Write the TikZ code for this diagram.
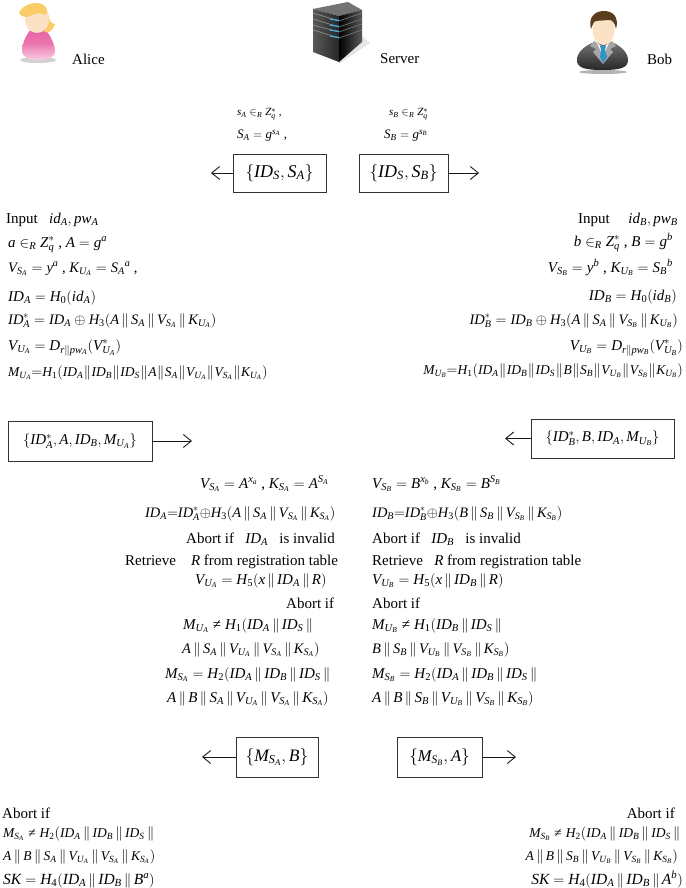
\documentclass[tikz,border=0pt]{standalone}
\usepackage{mathspec}
\setmainfont{Liberation Serif}
\setmathfont(Digits,Latin)[Scale=MatchLowercase]{Liberation Serif}
\setmathrm{Liberation Serif}
\usetikzlibrary{arrows.meta}
\newcommand{\cc}{\,\|\,}
\newcommand{\tc}{\mkern.7mu\|\mkern.7mu}
\newcommand{\nequal}{\mathrel{\hbox{≠}}}
\definecolor{alicepink}{RGB}{232,92,160}
\definecolor{alicehair}{RGB}{250,205,105}
\definecolor{skin}{RGB}{252,226,196}
\definecolor{tieblue}{RGB}{45,150,200}
\definecolor{ledblue}{RGB}{70,170,225}
\tikzset{
  lline/.style={anchor=base west,inner sep=0pt},
  rline/.style={anchor=base east,inner sep=0pt},
  msgbox/.style={draw=black!80,line width=.8pt,inner sep=0pt},
  flow/.style={-{Straight Barb[length=8pt,width=13pt]},line width=.9pt,black!90}
}

\begin{document}
\begin{tikzpicture}
  [x=1pt,y=-1pt,every node/.style={font=\fontsize{15}{18}\selectfont}]
  \useasboundingbox (0,0) rectangle (685,888);

  % Alice
  \fill[black!18] (38,60) ellipse (18 and 3);
  \shade[top color=alicepink,bottom color=alicepink!30,middle color=alicepink!85]
    (38,26) .. controls (47,26) and (55,44) .. (55,51)
    .. controls (55,58) and (46,60) .. (38,60)
    .. controls (30,60) and (22,58) .. (22,50)
    .. controls (22,43) and (29,26) .. (38,26);
  \fill[alicehair] (46,8) .. controls (50,18) and (49,24) .. (55,24)
    .. controls (53,30) and (49,34) .. (44,32) .. controls (48,24) and (46,16) .. (42,10) -- cycle;
  \fill[skin] (37,20) ellipse (12 and 13);
  \fill[alicehair] (19,13) .. controls (22,5) and (34,1) .. (42,4)
    .. controls (49,8) and (48,14) .. (44,15)
    .. controls (38,10) and (28,18) .. (25,17) .. controls (22,17) and (20,15) .. (19,13);

  % Server
  \fill[black!10] (340,63) -- (370,43) -- (362,36) -- (335,60) -- cycle;
  \fill[black!55] (313,9) -- (348,2) -- (362,10) -- (339,16) -- cycle;
  \shade[left color=black!65,right color=black!85]
    (313,9) -- (339,16) -- (339,62) -- (313,52) -- cycle;
  \shade[left color=black,right color=black!65]
    (339,16) -- (362,10) -- (362,42) -- (339,62) -- cycle;
  \foreach \ya/\yb in {16/21, 22/27, 28/32, 33/38}{
    \draw[black!45,line width=.7pt] (313,\ya-3) -- (339,\yb);
    \draw[black!55,line width=.7pt] (339,\yb) -- (362,\yb-8);
    \draw[ledblue,line width=1.3pt] (330,\yb-2) -- (339,\yb-.5);
  }

  % Bob
  \fill[black!30] (603,72) ellipse (24 and 2);
  \shade[top color=black!55,bottom color=black!85]
    (592,43) .. controls (585,46) and (577,52) .. (577,60)
    .. controls (577,68) and (585,70) .. (603,70)
    .. controls (620,70) and (628,68) .. (628,60)
    .. controls (628,52) and (620,46) .. (614,43) -- cycle;
  \fill[black!35] (594,41) -- (603,47) -- (603,64) -- (593,52) -- (596,49) -- (590,46) -- cycle;
  \fill[black!35] (612,41) -- (603,47) -- (603,64) -- (613,52) -- (610,49) -- (616,46) -- cycle;
  \fill[white] (597,43) -- (603,48) -- (609,43) -- (603,56) -- cycle;
  \fill[tieblue] (600,46) -- (606,46) -- (605,50) -- (607,57) -- (603,63) -- (600,57) -- (601,50) -- cycle;
  \fill[skin] (603.5,30) ellipse (11 and 15);
  \fill[black!40!brown!80!black] (591,29) .. controls (588,18) and (594,11) .. (604,11)
    .. controls (614,11) and (619,18) .. (616,29)
    .. controls (615,23) and (612,19) .. (608,20)
    .. controls (602,21) and (596,20) .. (594,22)
    .. controls (593,24) and (592,26) .. (591,29);

  \node[lline] (alice) at (72,65) {Alice};
  \node[lline] (server) at (380,64) {Server};
  \node[lline] (bob) at (647,65) {Bob};

  \node[lline,font=\fontsize{11}{13}\selectfont] (sa) at (237,116) {$s_A\in_R Z_q^*$ ,};
  \node[lline,font=\fontsize{13}{15}\selectfont] (bigsa) at (237,139) {$S_A=g^{s_A}$ ,};
  \node[lline,font=\fontsize{11}{13}\selectfont] (sb) at (389,116) {$s_B\in_R Z_q^*$};
  \node[lline,font=\fontsize{13}{15}\selectfont] (bigsb) at (384,139) {$S_B=g^{s_B}$};

  \node[msgbox,minimum width=93pt,minimum height=38pt,font=\fontsize{18}{20}\selectfont] (m1a) at (279.5,173) {$\{ID_S,S_A\}$};
  \node[msgbox,minimum width=89pt,minimum height=38pt,font=\fontsize{18}{20}\selectfont] (m1b) at (403.5,173) {$\{ID_S,S_B\}$};
  \coordinate (e1a) at (211,173);
  \coordinate (e1b) at (479,173);

  \node[lline] (la1) at (6,223) {Input\ \ \ $id_A,pw_A$};
  \node[lline] (la2) at (8,247) {$a\in_R Z_q^*$ , $A=g^a$};
  \node[lline,font=\fontsize{14.5}{17}\selectfont] (la3) at (8,272) {$V_{S_A}=y^a$ , $K_{U_A}=S_A{}^a$ ,};
  \node[lline] (la4) at (8,301) {$ID_A=H_0(id_A)$};
  \node[lline,font=\fontsize{14.5}{17}\selectfont] (la5) at (8,324) {$ID_A^*=ID_A\oplus H_3(A\cc S_A\cc V_{S_A}\cc K_{U_A})$};
  \node[lline] (la6) at (8,350) {$V_{U_A}=D_{r\|pw_A}(V_{U_A}^*)$};
  \node[lline,font=\fontsize{13.5}{16}\selectfont] (la7) at (8,376) {$M_{U_A}{=}H_1(ID_A\tc ID_B\tc ID_S\tc A\tc S_A\tc V_{U_A}\tc V_{S_A}\tc K_{U_A})$};

  \node[rline] (lb1) at (678,223) {Input\ \ \ \ \ $id_B,pw_B$};
  \node[rline] (lb2) at (673,246) {$b\in_R Z_q^*$ , $B=g^b$};
  \node[rline] (lb3) at (673,272) {$V_{S_B}=y^b$ , $K_{U_B}=S_B{}^b$};
  \node[rline] (lb4) at (677,300) {$ID_B=H_0(id_B)$};
  \node[rline,font=\fontsize{14.5}{17}\selectfont] (lb5) at (678,324) {$ID_B^*=ID_B\oplus H_3(A\cc S_A\cc V_{S_B}\cc K_{U_B})$};
  \node[rline] (lb6) at (683,350) {$V_{U_B}=D_{r\|pw_B}(V_{U_B}^*)$};
  \node[rline,font=\fontsize{13.5}{16}\selectfont] (lb7) at (683,374) {$M_{U_B}{=}H_1(ID_A\tc ID_B\tc ID_S\tc B\tc S_B\tc V_{U_B}\tc V_{S_B}\tc K_{U_B})$};

  \node[msgbox,minimum width=144pt,minimum height=40pt] (m2a) at (80,441) {$\{ID_A^*,A,ID_B,M_{U_A}\}$};
  \node[msgbox,minimum width=143pt,minimum height=39pt] (m2b) at (602.5,438.5) {$\{ID_B^*,B,ID_A,M_{U_B}\}$};
  \coordinate (e2a) at (192,441);
  \coordinate (e2b) at (505,438.5);

  \node[lline] (ca1) at (200,488) {$V_{S_A}=A^{x_a}$ , $K_{S_A}=A^{S_A}$};
  \node[lline,font=\fontsize{14.4}{17}\selectfont] (ca2) at (145,517) {$ID_A{=}ID_A^*{\oplus}H_3(A\cc S_A\cc V_{S_A}\cc K_{S_A})$};
  \node[lline] (ca3) at (186,543) {Abort if\ \ \ $ID_A$\ \ \ is invalid};
  \node[lline] (ca4) at (125,565) {Retrieve\ \ \ \ $R$ from registration table};
  \node[lline] (ca5) at (195,584) {$V_{U_A}=H_5(x\cc ID_A\cc R)$};
  \node[lline] (ca6) at (286,608) {Abort if};
  \node[lline] (ca7) at (183,629) {$M_{U_A}\nequal H_1(ID_A\cc ID_S\cc$};
  \node[lline,font=\fontsize{14.5}{17}\selectfont] (ca8) at (182,653) {$A\cc S_A\cc V_{U_A}\cc V_{S_A}\cc K_{S_A})$};
  \node[lline] (ca9) at (165,678) {$M_{S_A}=H_2(ID_A\cc ID_B\cc ID_S\cc$};
  \node[lline] (ca10) at (167,702) {$A\cc B\cc S_A\cc V_{U_A}\cc V_{S_A}\cc K_{S_A})$};

  \node[lline] (cb1) at (372,488) {$V_{S_B}=B^{x_b}$ , $K_{S_B}=B^{S_B}$};
  \node[lline,font=\fontsize{14.4}{17}\selectfont] (cb2) at (372,517) {$ID_B{=}ID_B^*{\oplus}H_3(B\cc S_B\cc V_{S_B}\cc K_{S_B})$};
  \node[lline] (cb3) at (372,543) {Abort if\ \ \ $ID_B$\ \ \ is invalid};
  \node[lline] (cb4) at (372,565) {Retrieve\ \ \ $R$ from registration table};
  \node[lline] (cb5) at (372,584) {$V_{U_B}=H_5(x\cc ID_B\cc R)$};
  \node[lline] (cb6) at (372,608) {Abort if};
  \node[lline] (cb7) at (372,629) {$M_{U_B}\nequal H_1(ID_B\cc ID_S\cc$};
  \node[lline,font=\fontsize{14.5}{17}\selectfont] (cb8) at (372,653) {$B\cc S_B\cc V_{U_B}\cc V_{S_B}\cc K_{S_B})$};
  \node[lline] (cb9) at (372,678) {$M_{S_B}=H_2(ID_A\cc ID_B\cc ID_S\cc$};
  \node[lline] (cb10) at (372,702) {$A\cc B\cc S_B\cc V_{U_B}\cc V_{S_B}\cc K_{S_B})$};

  \node[msgbox,minimum width=82pt,minimum height=40pt,font=\fontsize{17.5}{20}\selectfont] (m3a) at (277,757) {$\{M_{S_A},B\}$};
  \node[msgbox,minimum width=85pt,minimum height=40pt,font=\fontsize{16.5}{20}\selectfont] (m3b) at (439.5,757) {$\{M_{S_B},A\}$};
  \coordinate (e3a) at (202,757);
  \coordinate (e3b) at (516,757);

  \node[lline] (ea1) at (2,818) {Abort if};
  \node[lline,font=\fontsize{13.5}{16}\selectfont] (ea2) at (3,837) {$M_{S_A}\nequal H_2(ID_A\cc ID_B\cc ID_S\cc$};
  \node[lline,font=\fontsize{13.5}{16}\selectfont] (ea3) at (3,860) {$A\cc B\cc S_A\cc V_{U_A}\cc V_{S_A}\cc K_{S_A})$};
  \node[lline,font=\fontsize{15.5}{18}\selectfont] (ea4) at (3,884) {$SK=H_4(ID_A\cc ID_B\cc B^a)$};

  \node[rline] (eb1) at (675,818) {Abort if};
  \node[rline,font=\fontsize{13.5}{16}\selectfont] (eb2) at (683,837) {$M_{S_B}\nequal H_2(ID_A\cc ID_B\cc ID_S\cc$};
  \node[rline,font=\fontsize{13.5}{16}\selectfont] (eb3) at (678,860) {$A\cc B\cc S_B\cc V_{U_B}\cc V_{S_B}\cc K_{S_B})$};
  \node[rline,font=\fontsize{15.5}{18}\selectfont] (eb4) at (683,884) {$SK=H_4(ID_A\cc ID_B\cc A^b)$};

\foreach \from/\to in
{m1a/e1a, m1b/e1b, m2a/e2a, m2b/e2b, m3a/e3a, m3b/e3b}
    \draw[flow] (\from) -- (\to);

\end{tikzpicture}
\end{document}
